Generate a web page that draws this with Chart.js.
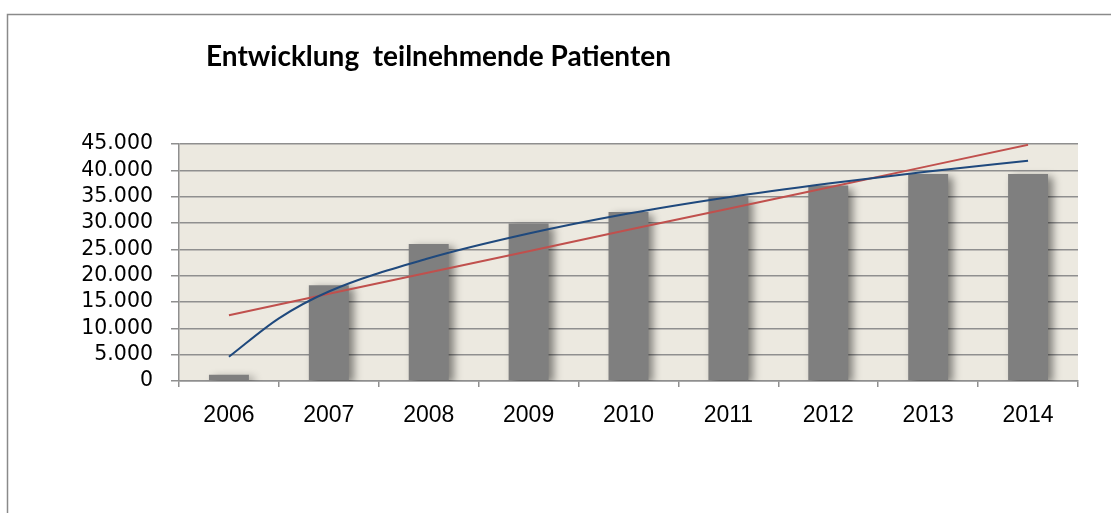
<!DOCTYPE html>
<html>
<head>
<meta charset="utf-8">
<script src="https://cdn.jsdelivr.net/npm/chart.js@4"></script>
<style>
  html, body { margin: 0; padding: 0; background: #ffffff; }
  #wrap { width: 1111px; height: 513px; position: relative; }
</style>
</head>
<body>
<div id="wrap"><canvas id="c" width="1111" height="513"></canvas></div>
<script>
const titleText = 'Entwicklung  teilnehmende Patienten';
const categories = ['2006', '2007', '2008', '2009', '2010', '2011', '2012', '2013', '2014'];
const patients = [1200, 18200, 26000, 29900, 32100, 35000, 37100, 39300, 39300];
const linearTrend = [12500, 16550, 20600, 24650, 28700, 32700, 36750, 40800, 44850];
// logarithmic trend line at these category positions (0 = 2006)
const logTrendPos = [0, 0.5, 1, 2, 3, 4, 5, 6, 7, 8];
const logTrendVal = [4600, 11900, 17000, 23300, 28000, 31800, 34900, 37500, 39800, 41800];
const yTicksMin = 0;
const yTicksMax = 45000;
const yTicksStep = 5000;

function fmtDe(v) {
  return String(Math.round(v)).replace(/\B(?=(\d{3})+(?!\d))/g, '.');
}

const framePlugin = {
  id: 'frame',
  beforeDraw(chart) {
    const ctx = chart.ctx;
    const a = chart.chartArea;
    ctx.save();
    ctx.fillStyle = '#ffffff';
    ctx.fillRect(0, 0, chart.width, chart.height);
    ctx.strokeStyle = '#8a8a8a';
    ctx.lineWidth = 1.5;
    ctx.strokeRect(7.5, 14.5, chart.width + 20, chart.height + 20);
    ctx.fillStyle = '#ECE9E0';
    ctx.fillRect(a.left, a.top, a.right - a.left, a.bottom - a.top);
    ctx.restore();
  },
  afterDraw(chart) {
    const ctx = chart.ctx;
    ctx.save();
    ctx.fillStyle = '#000000';
    ctx.font = 'bold 28px Lato';
    ctx.textBaseline = 'alphabetic';
    ctx.textAlign = 'left';
    ctx.fillText(titleText, 206, 66);
    ctx.restore();
  }
};

const shadowPlugin = {
  id: 'barShadow',
  beforeDatasetDraw(chart, args) {
    if (args.index !== 0) return;
    const ctx = chart.ctx;
    ctx.save();
    ctx.shadowColor = 'rgba(0,0,0,0.45)';
    ctx.shadowBlur = 8;
    ctx.shadowOffsetX = 5;
    ctx.shadowOffsetY = 3;
  },
  afterDatasetDraw(chart, args) {
    if (args.index !== 0) return;
    chart.ctx.restore();
  }
};

new Chart(document.getElementById('c'), {
  type: 'bar',
  data: {
    labels: categories,
    datasets: [
      {
        type: 'bar',
        label: 'Patienten',
        xAxisID: 'x',
        data: patients,
        backgroundColor: '#7F7F7F',
        borderWidth: 0,
        grouped: false,
        barPercentage: 0.8,
        categoryPercentage: 0.5,
        order: 3
      },
      {
        type: 'line',
        label: 'Linear',
        xAxisID: 'x',
        data: linearTrend,
        borderColor: '#C0504D',
        borderWidth: 2,
        pointRadius: 0,
        fill: false,
        tension: 0,
        order: 2
      },
      {
        type: 'line',
        label: 'Log',
        xAxisID: 'xt',
        data: logTrendPos.map((p, i) => ({ x: p, y: logTrendVal[i] })),
        borderColor: '#1F497D',
        borderWidth: 2,
        pointRadius: 0,
        fill: false,
        cubicInterpolationMode: 'monotone',
        order: 1
      }
    ]
  },
  options: {
    responsive: false,
    animation: false,
    devicePixelRatio: 1,
    layout: { padding: { left: 0, right: 33, top: 144, bottom: 0 } },
    plugins: {
      legend: { display: false },
      title: { display: false },
      tooltip: { enabled: false }
    },
    scales: {
      x: {
        type: 'category',
        offset: true,
        grid: {
          display: true,
          drawOnChartArea: false,
          drawTicks: true,
          tickLength: 6,
          color: '#8f8f8f',
          lineWidth: 1.5,
          offset: true
        },
        border: { display: true, color: '#8f8f8f', width: 1.5 },
        ticks: {
          color: '#000000',
          font: { family: 'Liberation Sans', size: 23 },
          padding: 15,
          maxRotation: 0,
          autoSkip: false
        },
        afterFit(scale) { scale.height = 132; }
      },
      xt: {
        type: 'linear',
        axis: 'x',
        position: 'bottom',
        display: false,
        offset: false,
        grid: { offset: false },
        min: -0.5,
        max: 8.5
      },
      y: {
        min: yTicksMin,
        max: yTicksMax,
        grid: {
          color: '#8f8f8f',
          lineWidth: 1.5,
          drawTicks: true,
          tickLength: 8
        },
        border: { display: true, color: '#8f8f8f', width: 1.5 },
        ticks: {
          stepSize: yTicksStep,
          autoSkip: false,
          color: '#000000',
          font: { family: 'DejaVu Sans', size: 20.5 },
          padding: 18,
          callback: (v) => fmtDe(v)
        },
        afterFit(scale) { scale.width = 179; }
      }
    }
  },
  plugins: [framePlugin, shadowPlugin]
});
</script>
</body>
</html>
